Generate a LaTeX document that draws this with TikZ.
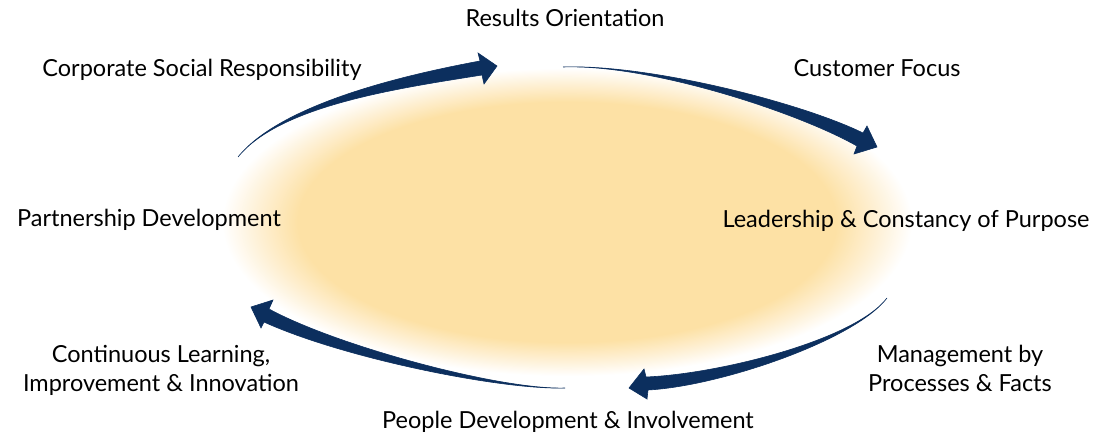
\documentclass[tikz,border=0pt]{standalone}
\usepackage{fontspec}
\setmainfont{Lato}
\definecolor{glowcore}{RGB}{253,225,165}
\definecolor{glowmid}{RGB}{254,240,212}
\definecolor{arrownavy}{RGB}{12,47,94}
\pgfdeclareradialshading{ovalglow}{\pgfpoint{0bp}{0bp}}{%
  color(0bp)=(glowcore); color(19.5bp)=(glowcore); color(22.4bp)=(glowmid);
  color(25bp)=(white); color(50bp)=(white)}
\tikzset{
  label text/.style={inner sep=0pt, anchor=base, align=center,
    font=\fontsize{23.5pt}{29pt}\selectfont},
  flow arrow/.style={fill=arrownavy, draw=arrownavy, line width=0.6pt, line join=miter},
}
\begin{document}
\begin{tikzpicture}[x=1pt,y=-1pt]
\useasboundingbox[fill=white] (0,0) rectangle (1095,439);
% glowing oval behind everything
\shade[shading=ovalglow] (567,222) ellipse (345 and 154);
% labels round the cycle
\node[label text] (results) at (565,27) {Results Orientation};
\node[label text] (csr) at (202,76) {Corporate Social Responsibility};
\node[label text] (customer) at (877,76) {Customer Focus};
\node[label text] (partner) at (149,226) {Partnership Development};
\node[label text] (leader) at (906,227) {Leadership \& Constancy of Purpose};
\node[label text] (mgmt) at (960,391) {Management by\\Processes \& Facts};
\node[label text] (learn) at (161,391) {Continuous Learning,\\Improvement \& Innovation};
\node[label text] (people) at (568,428) {People Development \& Involvement};
% arrow ends
\coordinate (tl tail) at (238,157);
\coordinate (tl tip) at (497,66);
\coordinate (tr tail) at (563,67);
\coordinate (tr tip) at (877,147);
\coordinate (br tail) at (887,298);
\coordinate (br tip) at (629,388);
\coordinate (bl tail) at (565,388);
\coordinate (bl tip) at (251,307);
% tapered arrows
\path[flow arrow] (tl tail) .. controls (280,105) and (399,76) .. (480,61) -- (478,53) -- (tl tip) -- (484,84) -- (482,75) .. controls (401,88) and (280,105) .. (tl tail) -- cycle;
\path[flow arrow] (tr tail) .. controls (650,64) and (802,103) .. (863,133) -- (867,126) -- (tr tip) -- (854,154) -- (857,146) .. controls (797,112) and (650,64) .. (tr tail) -- cycle;
\path[flow arrow] (br tail) .. controls (855,340) and (719,374) .. (646,377) -- (644,369) -- (br tip) -- (647,399) -- (648,390) .. controls (721,386) and (855,340) .. (br tail) -- cycle;
\path[flow arrow] (bl tail) .. controls (500,390) and (337,346) .. (269,309) -- (273,300) -- (bl tip) -- (261,328) -- (264,322) .. controls (343,358) and (500,390) .. (bl tail) -- cycle;
\end{tikzpicture}
\end{document}
